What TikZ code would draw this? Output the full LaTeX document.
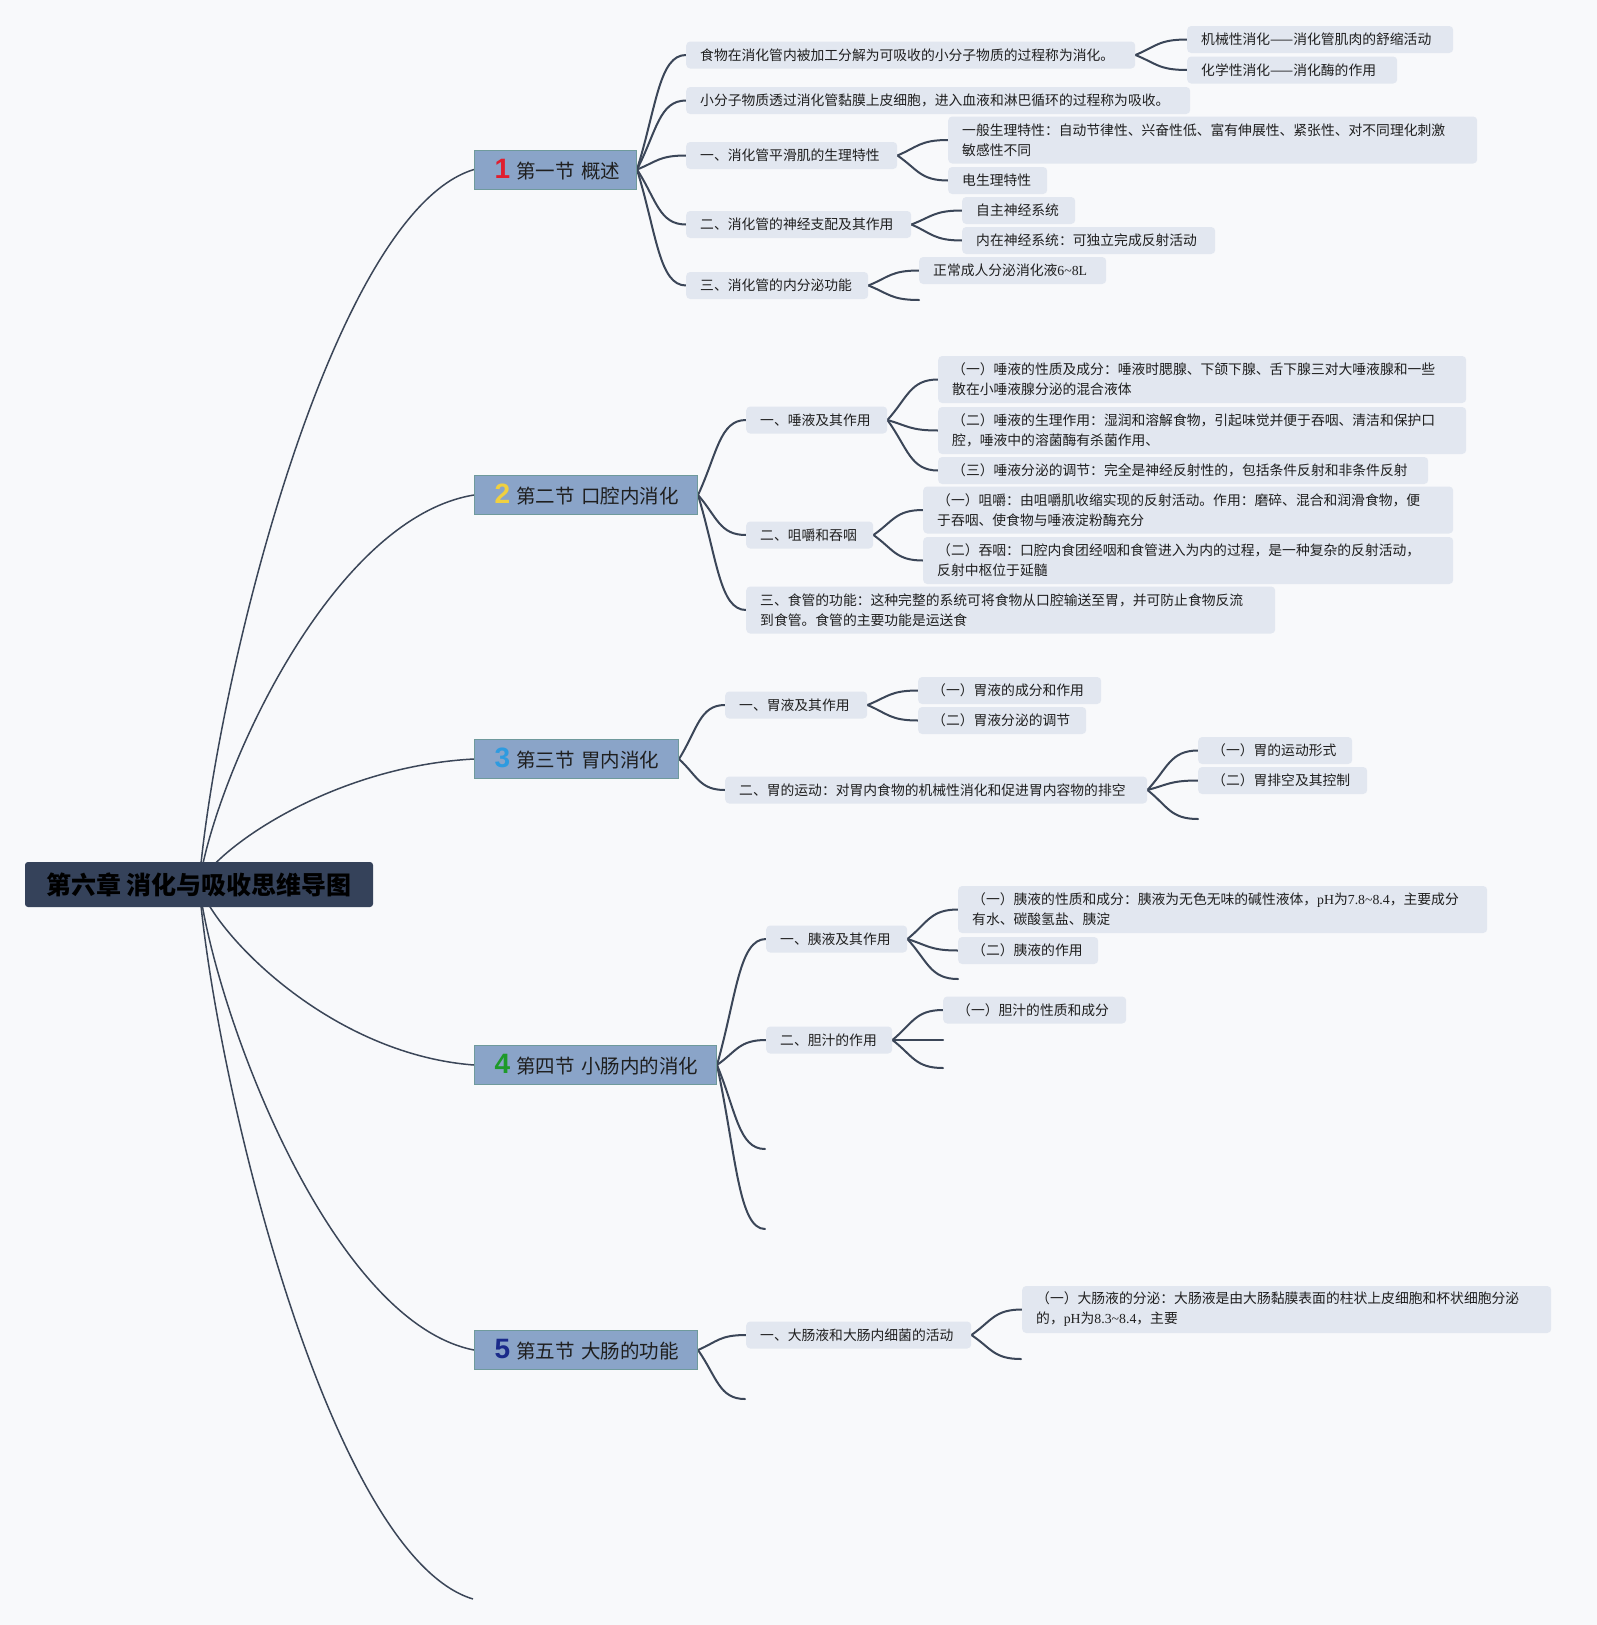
\documentclass[tikz,border=0pt]{standalone}
\usepackage{fontspec}
\setmainfont{Noto Sans CJK SC}
\newfontfamily\latf{Liberation Serif}
\newfontfamily\numf{Liberation Sans}
\usetikzlibrary{calc,backgrounds}
\definecolor{bgc}{HTML}{F8F9FB}
\definecolor{rootc}{HTML}{35425A}
\definecolor{secc}{HTML}{8AA4C8}
\definecolor{secb}{HTML}{6F9A9C}
\definecolor{kidc}{HTML}{E2E7F0}
\definecolor{linec}{HTML}{3B4658}
\definecolor{txtc}{HTML}{1F1F1F}
\definecolor{nA}{HTML}{E01E2E}
\definecolor{nB}{HTML}{F0D040}
\definecolor{nC}{HTML}{2E9BE0}
\definecolor{nD}{HTML}{1E9A2A}
\definecolor{nE}{HTML}{1A2A8A}
\newcommand\rcurve[2]{\draw[rootline] let \p1=(#1), \p2=(#2) in (\p1) .. controls ({\x1+0.06*(\x2-\x1)},{\y1+0.28*(\y2-\y1)}) and ({\x1+0.48*(\x2-\x1)},{\y1+0.94*(\y2-\y1)}) .. (\p2);}
\newcommand\bcurve[2]{\draw[subline] let \p1=(#1), \p2=(#2) in (\p1) .. controls ({\x1+0.4*(\x2-\x1)},{\y1+0.55*(\y2-\y1)}) and ({\x1+0.45*(\x2-\x1)},{\y2}) .. (\p2);}
\newcommand\sectitle[3]{\mbox{{\numf\bfseries\fontsize{28}{28}\selectfont\color{#1}#2}\kern6pt #3}}
\tikzset{
 kid/.style={fill=kidc, rounded corners=4pt, inner xsep=14pt, inner ysep=0pt, minimum height=27pt, anchor=west, align=left, text=txtc, font=\fontsize{13.8}{20}\selectfont},
 kidtwo/.style={kid, minimum height=47pt},
 sec/.style={fill=secc, draw=secb, line width=1pt, inner xsep=20pt, inner ysep=0pt, minimum height=39pt, anchor=west, align=left, text=txtc, font=\fontsize{19.5}{22}\selectfont},
 rootbox/.style={fill=rootc, rounded corners=3pt, minimum width=348pt, minimum height=45pt, inner sep=0pt, text=black, font=\fontsize{25}{28}\selectfont\bfseries},
 rootline/.style={draw=linec, line width=1.5pt},
 subline/.style={draw=linec, line width=2pt, line cap=round},
}
\begin{document}
\begin{tikzpicture}[x=1pt,y=-1pt]
\useasboundingbox (0,0) rectangle (1597,1625);
% root
\node[rootbox] (root) at (199,884.5) {第六章 消化与吸收思维导图};
% sections
\node[sec, text width=122pt] (s1) at (474,169.5) {\sectitle{nA}{1}{第一节 概述}};
\node[sec, text width=183pt] (s2) at (474,495) {\sectitle{nB}{2}{第二节 口腔内消化}};
\node[sec, text width=164pt] (s3) at (474,759) {\sectitle{nC}{3}{第三节 胃内消化}};
\node[sec, text width=202pt] (s4) at (474,1065) {\sectitle{nD}{4}{第四节 小肠内的消化}};
\node[sec, text width=183pt] (s5) at (474,1350) {\sectitle{nE}{5}{第五节 大肠的功能}};
\coordinate (e6) at (473,1599);
% section 1
\node[kid, text width=421pt] (c1a) at (686,55) {食物在消化管内被加工分解为可吸收的小分子物质的过程称为消化。};
\node[kid, text width=238pt] (c1a1) at (1187,39.5) {机械性消化——消化管肌肉的舒缩活动};
\node[kid, text width=182pt] (c1a2) at (1187,70) {化学性消化——消化酶的作用};
\node[kid, text width=476pt] (c1b) at (686,100.5) {小分子物质透过消化管黏膜上皮细胞，进入血液和淋巴循环的过程称为吸收。};
\node[kid, text width=183pt] (c1c) at (686,155.5) {一、消化管平滑肌的生理特性};
\node[kidtwo, text width=501pt] (c1c1) at (948,140) {一般生理特性：自动节律性、兴奋性低、富有伸展性、紧张性、对不同理化刺激\\敏感性不同};
\node[kid, text width=71pt] (c1c2) at (948,180.5) {电生理特性};
\node[kid, text width=197pt] (c1d) at (686,224.5) {二、消化管的神经支配及其作用};
\node[kid, text width=85pt] (c1d1) at (962,210.5) {自主神经系统};
\node[kid, text width=225pt] (c1d2) at (962,240.5) {内在神经系统：可独立完成反射活动};
\node[kid, text width=154pt] (c1e) at (686,285.5) {三、消化管的内分泌功能};
\node[kid, text width=159pt] (c1e1) at (919,270.5) {正常成人分泌消化液{\latf 6\textasciitilde 8L}};
\coordinate (e1e2) at (919,300);
% section 2
\node[kid, text width=113pt] (c2a) at (746,420) {一、唾液及其作用};
\node[kidtwo, text width=500pt] (c2a1) at (938,379.5) {（一）唾液的性质及成分：唾液时腮腺、下颌下腺、舌下腺三对大唾液腺和一些\\散在小唾液腺分泌的混合液体};
\node[kidtwo, text width=500pt] (c2a2) at (938,430.5) {（二）唾液的生理作用：湿润和溶解食物，引起味觉并便于吞咽、清洁和保护口\\腔，唾液中的溶菌酶有杀菌作用、};
\node[kid, text width=462pt] (c2a3) at (938,470.5) {（三）唾液分泌的调节：完全是神经反射性的，包括条件反射和非条件反射};
\node[kid, text width=99pt] (c2b) at (746,535) {二、咀嚼和吞咽};
\node[kidtwo, text width=502pt] (c2b1) at (923,510) {（一）咀嚼：由咀嚼肌收缩实现的反射活动。作用：磨碎、混合和润滑食物，便\\于吞咽、使食物与唾液淀粉酶充分};
\node[kidtwo, text width=502pt] (c2b2) at (923,560.5) {（二）吞咽：口腔内食团经咽和食管进入为内的过程，是一种复杂的反射活动，\\反射中枢位于延髓};
\node[kidtwo, text width=501pt] (c2c) at (746,610) {三、食管的功能：这种完整的系统可将食物从口腔输送至胃，并可防止食物反流\\到食管。食管的主要功能是运送食};
% section 3
\node[kid, text width=114pt] (c3a) at (725,705) {一、胃液及其作用};
\node[kid, text width=155pt] (c3a1) at (918,690.5) {（一）胃液的成分和作用};
\node[kid, text width=140pt] (c3a2) at (918,720.5) {（二）胃液分泌的调节};
\node[kid, text width=394pt] (c3b) at (725,790) {二、胃的运动：对胃内食物的机械性消化和促进胃内容物的排空};
\node[kid, text width=126pt] (c3b1) at (1198,750.5) {（一）胃的运动形式};
\node[kid, text width=141pt] (c3b2) at (1198,780.5) {（二）胃排空及其控制};
\coordinate (e3b3) at (1198,819);
% section 4
\node[kid, text width=113pt] (c4a) at (766,939) {一、胰液及其作用};
\node[kidtwo, text width=501pt] (c4a1) at (958,909.5) {（一）胰液的性质和成分：胰液为无色无味的碱性液体，{\latf pH}为{\latf 7.8\textasciitilde 8.4}，主要成分\\有水、碳酸氢盐、胰淀};
\node[kid, text width=112pt] (c4a2) at (958,950.5) {（二）胰液的作用};
\coordinate (e4a3) at (958,979);
\node[kid, text width=98pt] (c4b) at (766,1040) {二、胆汁的作用};
\node[kid, text width=155pt] (c4b1) at (943,1010) {（一）胆汁的性质和成分};
\coordinate (e4b2) at (943,1040);
\coordinate (e4b3) at (943,1068);
\coordinate (e4c) at (765,1149);
\coordinate (e4d) at (765,1229);
% section 5
\node[kid, text width=197pt] (c5a) at (746,1335) {一、大肠液和大肠内细菌的活动};
\node[kidtwo, text width=501pt] (c5a1) at (1022,1309.5) {（一）大肠液的分泌：大肠液是由大肠黏膜表面的柱状上皮细胞和杯状细胞分泌\\的，{\latf pH}为{\latf 8.3\textasciitilde 8.4}，主要};
\coordinate (e5a2) at (1021,1359);
\coordinate (e5b) at (745,1399);
% connectors
\begin{scope}[on background layer]
\fill[bgc] (0,0) rectangle (1597,1625);
\rcurve{root.center}{s1.west}
\rcurve{root.center}{s2.west}
\rcurve{root.center}{s3.west}
\rcurve{root.center}{s4.west}
\rcurve{root.center}{s5.west}
\rcurve{root.center}{e6}
\bcurve{s1.east}{c1a.west}
\bcurve{s1.east}{c1b.west}
\bcurve{s1.east}{c1c.west}
\bcurve{s1.east}{c1d.west}
\bcurve{s1.east}{c1e.west}
\bcurve{c1a.east}{c1a1.west}
\bcurve{c1a.east}{c1a2.west}
\bcurve{c1c.east}{c1c1.west}
\bcurve{c1c.east}{c1c2.west}
\bcurve{c1d.east}{c1d1.west}
\bcurve{c1d.east}{c1d2.west}
\bcurve{c1e.east}{c1e1.west}
\bcurve{c1e.east}{e1e2}
\bcurve{s2.east}{c2a.west}
\bcurve{s2.east}{c2b.west}
\bcurve{s2.east}{c2c.west}
\bcurve{c2a.east}{c2a1.west}
\bcurve{c2a.east}{c2a2.west}
\bcurve{c2a.east}{c2a3.west}
\bcurve{c2b.east}{c2b1.west}
\bcurve{c2b.east}{c2b2.west}
\bcurve{s3.east}{c3a.west}
\bcurve{s3.east}{c3b.west}
\bcurve{c3a.east}{c3a1.west}
\bcurve{c3a.east}{c3a2.west}
\bcurve{c3b.east}{c3b1.west}
\bcurve{c3b.east}{c3b2.west}
\bcurve{c3b.east}{e3b3}
\bcurve{s4.east}{c4a.west}
\bcurve{s4.east}{c4b.west}
\bcurve{s4.east}{e4c}
\bcurve{s4.east}{e4d}
\bcurve{c4a.east}{c4a1.west}
\bcurve{c4a.east}{c4a2.west}
\bcurve{c4a.east}{e4a3}
\bcurve{c4b.east}{c4b1.west}
\bcurve{c4b.east}{e4b2}
\bcurve{c4b.east}{e4b3}
\bcurve{s5.east}{c5a.west}
\bcurve{s5.east}{e5b}
\bcurve{c5a.east}{c5a1.west}
\bcurve{c5a.east}{e5a2}
\end{scope}
\end{tikzpicture}
\end{document}
